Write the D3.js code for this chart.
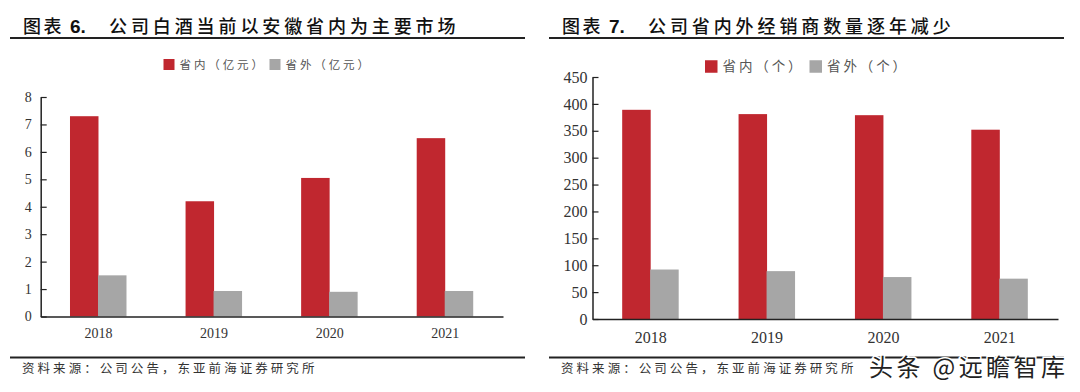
<!DOCTYPE html>
<html><head><meta charset="utf-8">
<script src="https://cdn.jsdelivr.net/npm/d3@7/dist/d3.min.js"></script>
<style>html,body{margin:0;padding:0;background:#fff}svg{display:block}</style></head>
<body><svg id="c" width="1080" height="392"></svg>
<script>
const years = ["2018","2019","2020","2021"];
const leftInner = [7.3,4.2,5.05,6.5];
const leftOuter = [1.5,0.93,0.9,0.93];
const leftTicks = [0,1,2,3,4,5,6,7,8];
const rightInner = [389,381,379,352];
const rightOuter = [92,89,78,75];
const rightTicks = [0,50,100,150,200,250,300,350,400,450];
const RED="#c0272f", GRAY="#a6a6a6", CJK="'Noto Sans CJK SC'", SERIF="'Liberation Serif'";
const svg=d3.select("#c");

function panel(o){
  const g=svg.append("g");
  const x=d3.scaleBand().domain(years).range([o.x0,o.x1]);
  const y=d3.scaleLinear().domain([0,o.max]).range([o.y0,o.y1]);
  g.append("text").attr("x",o.tx).attr("y",32.5).attr("font-family",CJK).attr("font-size",18).attr("font-weight",500)
    .attr("letter-spacing",2.4).attr("fill","#111").text("图表");
  g.append("text").attr("x",o.tx+47).attr("y",32.5).attr("font-family","'Liberation Sans'").attr("font-size",19).attr("font-weight",700)
    .attr("fill","#111").text(o.num);
  g.append("text").attr("x",o.tx+o.tt).attr("y",32.5).attr("font-family",CJK).attr("font-size",18).attr("font-weight",500)
    .attr("letter-spacing",3.9).attr("fill","#111").text(o.title);
  g.append("line").attr("x1",o.rx0).attr("x2",o.rx1).attr("y1",38).attr("y2",38).attr("stroke","#222").attr("stroke-width",2);
  g.append("line").attr("x1",o.rx0).attr("x2",o.rx1).attr("y1",357.5).attr("y2",357.5).attr("stroke","#222").attr("stroke-width",2);
  g.append("text").attr("x",o.tx-1).attr("y",373).attr("font-family",CJK).attr("font-size",12.5)
    .attr("letter-spacing",3.05).attr("fill","#333").text("资料来源：公司公告，东亚前海证券研究所");
  o.legend.forEach((l,i)=>{
    g.append("rect").attr("x",l.x).attr("y",o.ly-o.ls2/2).attr("width",o.ls2).attr("height",o.ls2).attr("fill",i?GRAY:RED);
    g.append("text").attr("x",l.x+o.ls2+5).attr("y",o.ly+o.lf*0.37).attr("font-family",CJK).attr("font-size",o.lf)
      .attr("letter-spacing",o.lsp).attr("fill","#555").text(l.t);
  });
  g.selectAll(".r").data(years).join("rect").attr("x",d=>x(d)+x.bandwidth()/2-o.bw).attr("width",o.bw)
    .attr("y",(d,i)=>y(o.a[i])).attr("height",(d,i)=>o.y0-y(o.a[i])).attr("fill",RED);
  g.selectAll(".g").data(years).join("rect").attr("x",d=>x(d)+x.bandwidth()/2-0.5).attr("width",o.bw)
    .attr("y",(d,i)=>y(o.b[i])).attr("height",(d,i)=>o.y0-y(o.b[i])).attr("fill",GRAY);
  const ay=g.append("g").attr("transform",`translate(${o.x0},0)`).call(d3.axisLeft(y).tickValues(o.ticks).tickSize(-6).tickPadding(o.tp).tickSizeOuter(0));
  ay.selectAll("line").attr("stroke","#222").attr("stroke-width",1.2);
  ay.select(".domain").attr("stroke","#222").attr("stroke-width",1.5);
  ay.selectAll("text").attr("font-family",SERIF).attr("font-size",o.fs).attr("fill","#333");
  const ax=g.append("g").attr("transform",`translate(0,${o.y0})`).call(d3.axisBottom(x).tickSize(0).tickPadding(o.xp));
  ax.select(".domain").attr("stroke","#222").attr("stroke-width",1.5);
  ax.selectAll("text").attr("font-family",SERIF).attr("font-size",o.fs).attr("fill","#333");
}

panel({x0:40.7,x1:503,y0:316.5,y1:97,max:8,a:leftInner,b:leftOuter,ticks:leftTicks,bw:28.5,fs:14,tp:9,xp:12,
  tx:23,tt:86,rx0:10,rx1:525,num:"6.",title:"公司白酒当前以安徽省内为主要市场",
  ly:64.5,ls2:11,lf:11.5,lsp:2.9,legend:[{x:163.5,t:"省内（亿元）"},{x:269.5,t:"省外（亿元）"}]});
panel({x0:592.5,x1:1058,y0:319,y1:77,max:450,a:rightInner,b:rightOuter,ticks:rightTicks,bw:28.5,fs:16,tp:5,xp:13,
  tx:562,tt:86,rx0:549,rx1:1064,num:"7.",title:"公司省内外经销商数量逐年减少",
  ly:66.5,ls2:12.5,lf:13.5,lsp:2.9,legend:[{x:705,t:"省内（个）"},{x:809.5,t:"省外（个）"}]});

svg.append("text").attr("x",869).attr("y",376).attr("font-family",CJK).attr("font-size",24).attr("letter-spacing",3.4)
  .attr("fill","#222").attr("stroke","#fff").attr("stroke-width",3).attr("paint-order","stroke").text("头条 @远瞻智库");
</script></body></html>
